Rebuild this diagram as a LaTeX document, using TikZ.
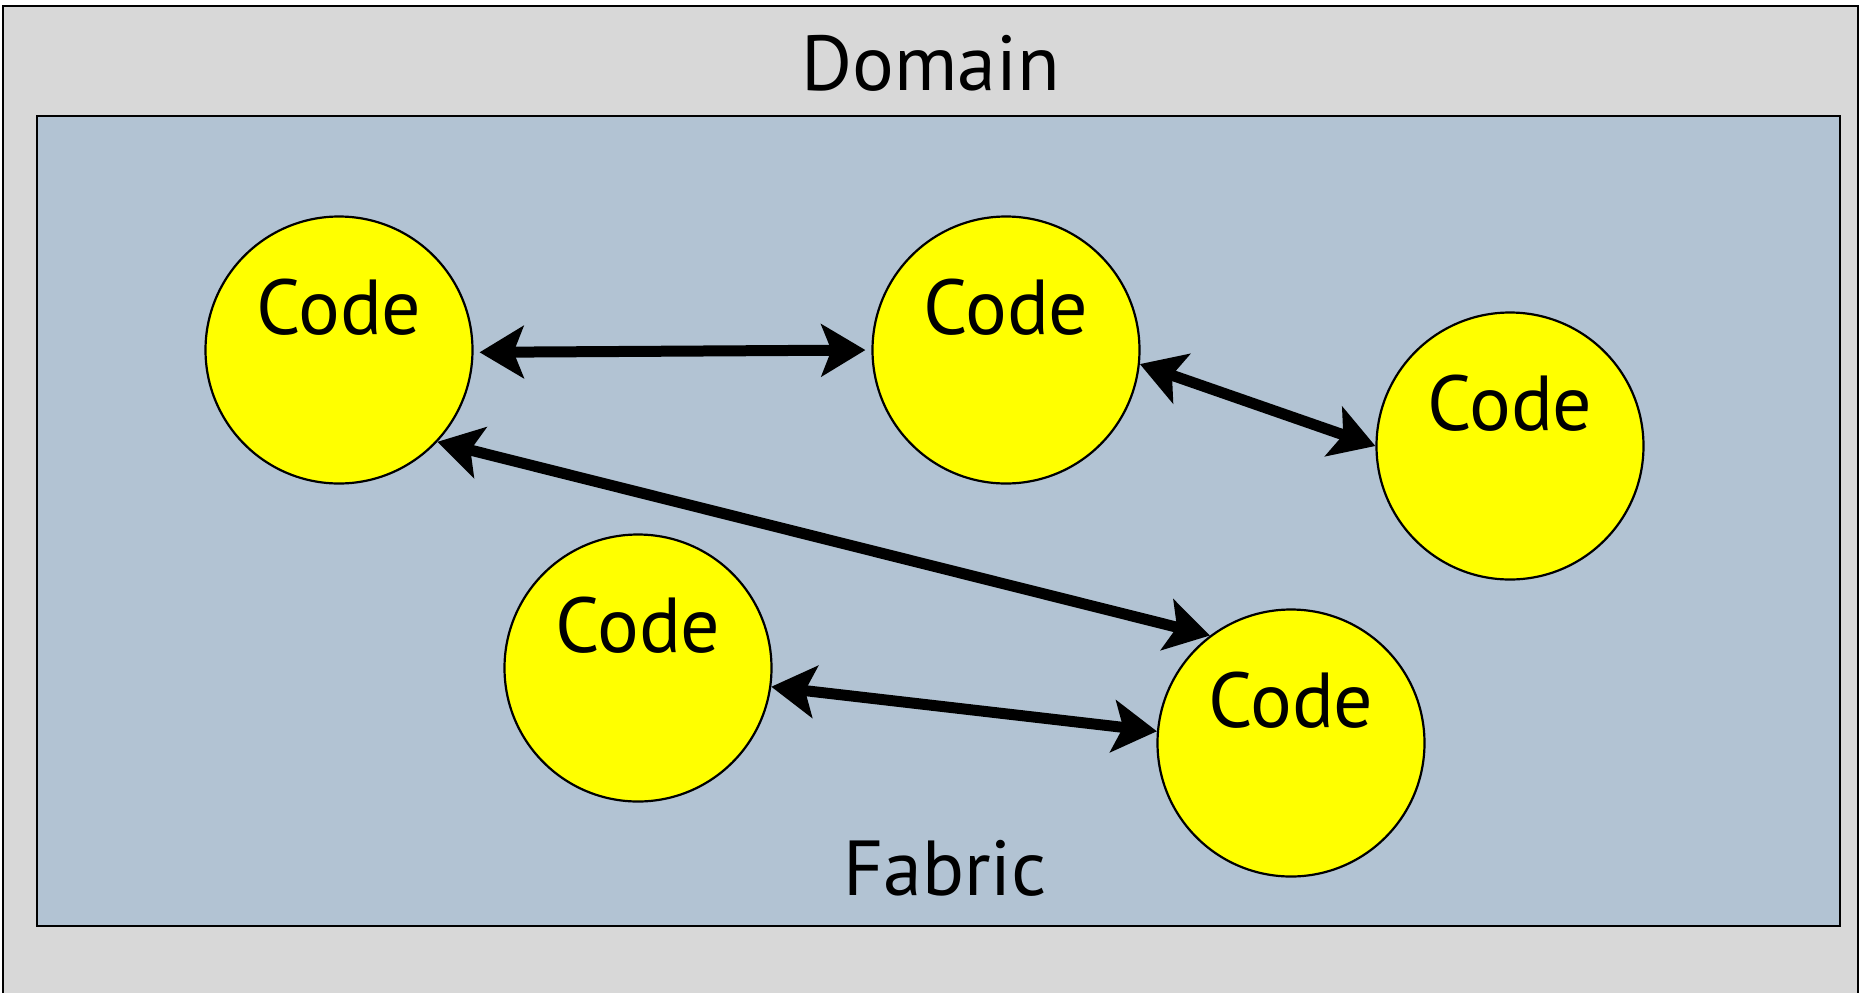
\documentclass[tikz,border=0pt]{standalone}
\usepackage{fontspec}
\setmainfont{PT Sans}
\usetikzlibrary{arrows.meta}
\definecolor{domaingray}{HTML}{D8D8D8}
\definecolor{fabricblue}{HTML}{B2C3D3}
\definecolor{codeyellow}{HTML}{FFFF00}
\begin{document}
\begin{tikzpicture}[x=0.5pt,y=-0.5pt,
  code/.style={circle, draw=black, line width=1.1pt, fill=codeyellow,
               minimum size=133.5pt, inner sep=0pt},
  lbl/.style={font=\fontsize{39}{46}\selectfont, anchor=base, inner sep=0pt},
  link/.style={line width=5.5pt,
               {Stealth[length=22pt,width=26pt,inset=5pt]}-{Stealth[length=22pt,width=26pt,inset=5pt]}},
  frame/.style={draw=black, line width=1pt}]
  \useasboundingbox (0,0) rectangle (1860,992);
  \clip (0,0) rectangle (1860,992);
  % outer domain and inner fabric areas
  \draw[frame, fill=domaingray] (3,6) rectangle (1858,1010);
  \draw[frame, fill=fabricblue] (37,116) rectangle (1840,926);
  \node[lbl] (domainlbl) at (931,90) {Domain};
  \node[lbl] (fabriclbl) at (945,895) {Fabric};
  % code units
  \node[code] (c1) at (339,350) {};
  \node[code] (c2) at (1006,350) {};
  \node[code] (c3) at (1510,446) {};
  \node[code] (c4) at (638,668) {};
  \node[code] (c5) at (1291,743) {};
  \foreach \n in {1,...,5}
    \node[lbl] (t\n) at ([yshift=8pt]c\n.center) {Code};
  % links between code units
  \draw[link, shorten <=3pt, shorten >=3pt] (c1.-1) -- (c2.180);
  \draw[link] (c2.-6) -- (c3.180);
  \draw[link] (c1.-43) -- (c5.127);
  \draw[link] (c4.-8.5) -- (c5.175);
\end{tikzpicture}
\end{document}
